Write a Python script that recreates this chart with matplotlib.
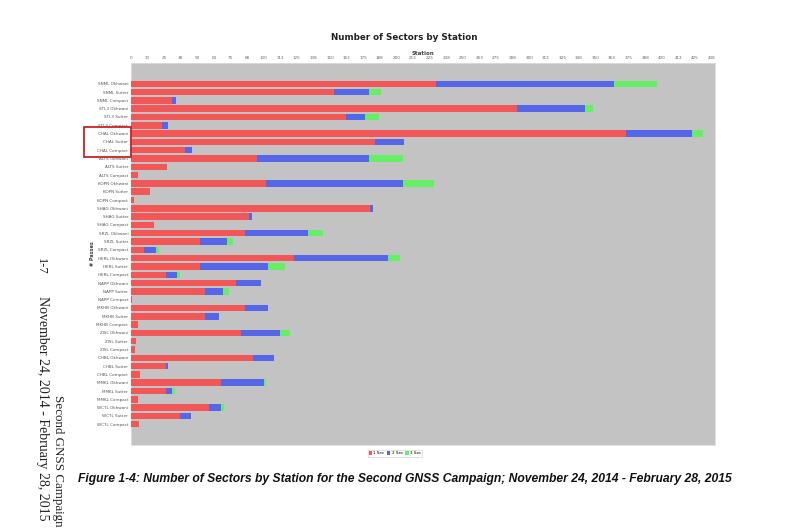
import matplotlib
matplotlib.use("Agg")
import matplotlib.pyplot as plt
from matplotlib.patches import Rectangle
import numpy as np

stations = ["SNML", "STL3", "CHAL", "ALTS", "KOPN", "SHAG", "SRZL", "HERL",
            "NAPP", "MKHB", "ZISL", "CHBL", "MMKL", "WCTL"]
receivers = ["Okhwani", "Sutter", "Compact"]
labels = [f"{s} {r}" for s in stations for r in receivers]

red = [230, 153, 31, 291, 162, 23, 373, 184, 41, 95, 27, 5, 102, 14, 2,
       180, 89, 17, 86, 52, 10, 123, 52, 26, 79, 56, 1, 86, 56, 5,
       83, 4, 3, 92, 26, 7, 68, 26, 5, 59, 37, 6]
blue = [134, 26, 3, 51, 14, 5, 50, 22, 5, 84, 0, 0, 103, 0, 0,
        2, 2, 0, 47, 20, 9, 71, 51, 9, 19, 13, 0, 17, 10, 0,
        29, 0, 0, 16, 2, 0, 32, 5, 0, 9, 8, 0]
green = [32, 9, 0, 6, 11, 0, 8, 0, 0, 26, 0, 0, 23, 0, 0,
         0, 0, 0, 12, 5, 2, 9, 13, 2, 0, 5, 0, 0, 0, 0,
         8, 0, 0, 0, 0, 0, 2, 2, 0, 2, 0, 0]
legend_labels = ["1 Sec", "2 Sec", "3 Sec"]
xticks = np.arange(0, 438, 12.5)
xticklabels = [str(int(np.floor(t + 0.5))) for t in xticks]

W, H = 792, 529
fig = plt.figure(figsize=(W / 100, H / 100), dpi=100)
fig.patch.set_facecolor("white")

ax = fig.add_axes([131 / W, 1 - 445 / H, (715 - 131) / W, (445 - 63) / H])
ax.set_facecolor("#c3c3c3")

y = np.arange(len(labels))
r = np.array(red, float)
b = np.array(blue, float)
g = np.array(green, float)
h = 0.78
ax.barh(y, r, height=h, color="#f25757", label=legend_labels[0], zorder=3)
ax.barh(y, b, left=r, height=h, color="#5566e8", label=legend_labels[1], zorder=3)
ax.barh(y, g, left=r + b, height=h, color="#66ee66", label=legend_labels[2], zorder=3)

ax.set_ylim(len(labels) - 1 + 2.5, -2.5)
ax.set_xlim(0, 440)
ax.set_yticks(y)
ax.set_yticklabels(labels, fontsize=3, color="#555555")
ax.xaxis.tick_top()
ax.xaxis.set_label_position("top")
ax.set_xticks(xticks)
ax.set_xticklabels(xticklabels, fontsize=3, color="#666666")
ax.tick_params(length=0, pad=2)
for s in ax.spines.values():
    s.set_color("#dddddd")
    s.set_linewidth(0.6)
ax.set_xlabel("Station", fontsize=4, fontweight="bold", color="#444444", labelpad=1)
ax.set_ylabel("# Passes", fontsize=3.5, fontweight="bold", color="#444444", labelpad=1)
fig.text(404 / W, 1 - 38 / H, "Number of Sectors by Station", fontsize=6.3,
         fontweight="bold", color="#222222", ha="center", va="center")

leg = ax.legend(loc="upper center", bbox_to_anchor=(0.452, -0.008), ncol=3,
                fontsize=3, frameon=True, handlelength=0.8, handleheight=0.8,
                columnspacing=0.6, handletextpad=0.3, borderpad=0.3)
leg.get_frame().set_linewidth(0.4)
leg.get_frame().set_edgecolor("#bbbbbb")

# red highlight box around CHAL rows
fig.patches.append(Rectangle((84 / W, 1 - 157 / H), (131 - 84) / W, (157 - 127) / H,
                             transform=fig.transFigure, fill=False,
                             edgecolor="#cc2222", linewidth=1.3))

fig.text(78 / W, 1 - 479 / H,
         "Figure 1-4: Number of Sectors by Station for the Second GNSS Campaign; "
         "November 24, 2014 - February 28, 2015",
         fontsize=8.7, fontweight="bold", fontstyle="italic",
         family="Liberation Sans", color="#111111", va="center", ha="left")

fig.text(41 / W, 1 - 266 / H, "1-7", rotation=-90, family="Liberation Serif",
         fontsize=9, color="#222222", ha="center", va="center")
fig.text(42 / W, 1 - 296 / H, "November 24, 2014 - February 28, 2015", rotation=-90,
         family="Liberation Serif", fontsize=10, color="#222222",
         ha="center", va="top")
fig.text(58 / W, 1 - 395 / H, "Second GNSS Campaign", rotation=-90,
         family="Liberation Serif", fontsize=9.4, color="#222222",
         ha="center", va="top")

fig.savefig("out.png", dpi=100, facecolor="white")
